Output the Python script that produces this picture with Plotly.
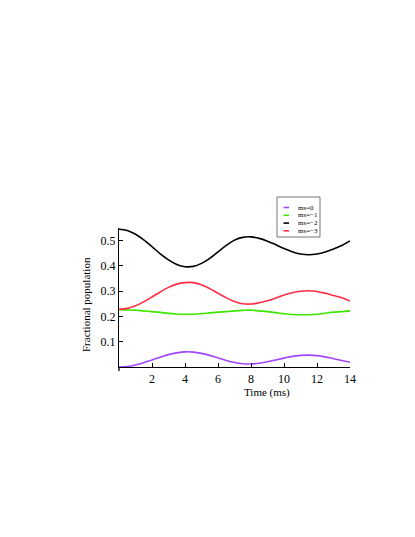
import plotly.graph_objects as go

# ---- data ----
time_ms = [0, 0.5, 1, 1.5, 2, 2.5, 3, 3.5, 4, 4.5, 5, 5.5, 6, 6.5, 7, 7.5,
           8, 8.5, 9, 9.5, 10, 10.5, 11, 11.5, 12, 12.5, 13, 13.5, 14]

ms0 = [0.000, 0.002, 0.008, 0.017, 0.028, 0.039, 0.049, 0.056, 0.060, 0.059,
       0.054, 0.046, 0.036, 0.026, 0.018, 0.013, 0.012, 0.015, 0.021, 0.028,
       0.035, 0.042, 0.046, 0.047, 0.045, 0.040, 0.033, 0.026, 0.019]

ms_1 = [0.227, 0.226, 0.225, 0.222, 0.219, 0.216, 0.212, 0.210, 0.209, 0.209,
        0.211, 0.214, 0.217, 0.219, 0.222, 0.224, 0.225, 0.222, 0.219, 0.215,
        0.211, 0.208, 0.207, 0.207, 0.209, 0.213, 0.217, 0.219, 0.222]

ms_2 = [0.545, 0.540, 0.525, 0.503, 0.476, 0.448, 0.424, 0.406, 0.397, 0.398,
        0.410, 0.430, 0.456, 0.481, 0.502, 0.513, 0.515, 0.509, 0.498, 0.484,
        0.469, 0.456, 0.447, 0.444, 0.447, 0.455, 0.467, 0.481, 0.499]

ms_3 = [0.228, 0.232, 0.242, 0.258, 0.277, 0.297, 0.315, 0.328, 0.334, 0.334,
        0.325, 0.310, 0.292, 0.274, 0.259, 0.250, 0.249, 0.254, 0.262, 0.273,
        0.285, 0.294, 0.300, 0.302, 0.299, 0.292, 0.283, 0.274, 0.261]

series_names = ["ms=0", "ms=\u22121", "ms=\u22122", "ms=\u22123"]
series_values = [ms0, ms_1, ms_2, ms_3]
series_colors = ["#a245ff", "#3de600", "#000000", "#ff2d44"]

x_ticks = [2, 4, 6, 8, 10, 12, 14]
y_ticks = [0.1, 0.2, 0.3, 0.4, 0.5]
y_ticklabels = ["0.1", "0.2", "0.3", "0.4", "0.5"]

# ---- layout geometry (page pixels) ----
W, H = 415, 537
OFF = 8  # default body margin of the html page
L, R, T, B = 119, 350, 228, 367
PW, PH = R - L, B - T

def px(x):
    return (x - L) / PW

def py(y):
    return (B - y) / PH

FONT = "Liberation Serif, Times New Roman, serif"

fig = go.Figure()
for name, vals, col in zip(series_names, series_values, series_colors):
    fig.add_trace(go.Scatter(
        x=time_ms, y=vals, mode="lines", name=name,
        line=dict(color=col, width=1.6, shape="spline", smoothing=1.0),
        showlegend=False, hoverinfo="skip"))

shapes = []
annotations = []

# manual legend box
shapes.append(dict(type="rect", xref="paper", yref="paper",
                   x0=px(277), x1=px(320), y0=py(237), y1=py(197),
                   line=dict(color="#777777", width=1), fillcolor="white",
                   layer="above"))
row_y = [207.5, 215.3, 223.1, 230.8]
for name, col, ry in zip(series_names, series_colors, row_y):
    shapes.append(dict(type="line", xref="paper", yref="paper",
                       x0=px(283.5), x1=px(289), y0=py(ry), y1=py(ry),
                       line=dict(color=col, width=1.6), layer="above"))
    annotations.append(dict(xref="paper", yref="paper", x=px(296), y=py(ry),
                            text=name, showarrow=False, xanchor="left",
                            yanchor="middle",
                            font=dict(family=FONT, size=7, color="black")))

# small extension of the vertical axis below the origin
shapes.append(dict(type="line", xref="paper", yref="paper",
                   x0=0, x1=0, y0=0, y1=py(371),
                   line=dict(color="black", width=1.3)))

# axis titles
annotations.append(dict(xref="paper", yref="paper", x=px(267), y=py(392),
                        text="Time (ms)", showarrow=False,
                        xanchor="center", yanchor="middle",
                        font=dict(family=FONT, size=11, color="black")))
annotations.append(dict(xref="paper", yref="paper", x=px(86), y=py(305),
                        text="Fractional population", showarrow=False,
                        textangle=-90, xanchor="center", yanchor="middle",
                        font=dict(family=FONT, size=11, color="black")))

fig.update_layout(
    width=W, height=H,
    margin=dict(l=L - OFF, r=W - (R - OFF), t=T - OFF, b=H - (B - OFF),
                autoexpand=False),
    paper_bgcolor="white", plot_bgcolor="white",
    shapes=shapes, annotations=annotations,
    showlegend=False,
    xaxis=dict(range=[0, 14], showgrid=False, zeroline=False,
               showline=True, linecolor="black", linewidth=1.3,
               ticks="inside", ticklen=4, tickcolor="black", tickwidth=1,
               tickvals=x_ticks, ticktext=[str(v) for v in x_ticks],
               tickfont=dict(family=FONT, size=12, color="black"),
               fixedrange=True),
    yaxis=dict(range=[0, 0.55], showgrid=False, zeroline=False,
               showline=True, linecolor="black", linewidth=1.3,
               ticks="inside", ticklen=4, tickcolor="black", tickwidth=1,
               tickvals=y_ticks, ticktext=y_ticklabels,
               tickfont=dict(family=FONT, size=12, color="black"),
               fixedrange=True),
)

fig.write_html("out.html", config={"displayModeBar": False})
